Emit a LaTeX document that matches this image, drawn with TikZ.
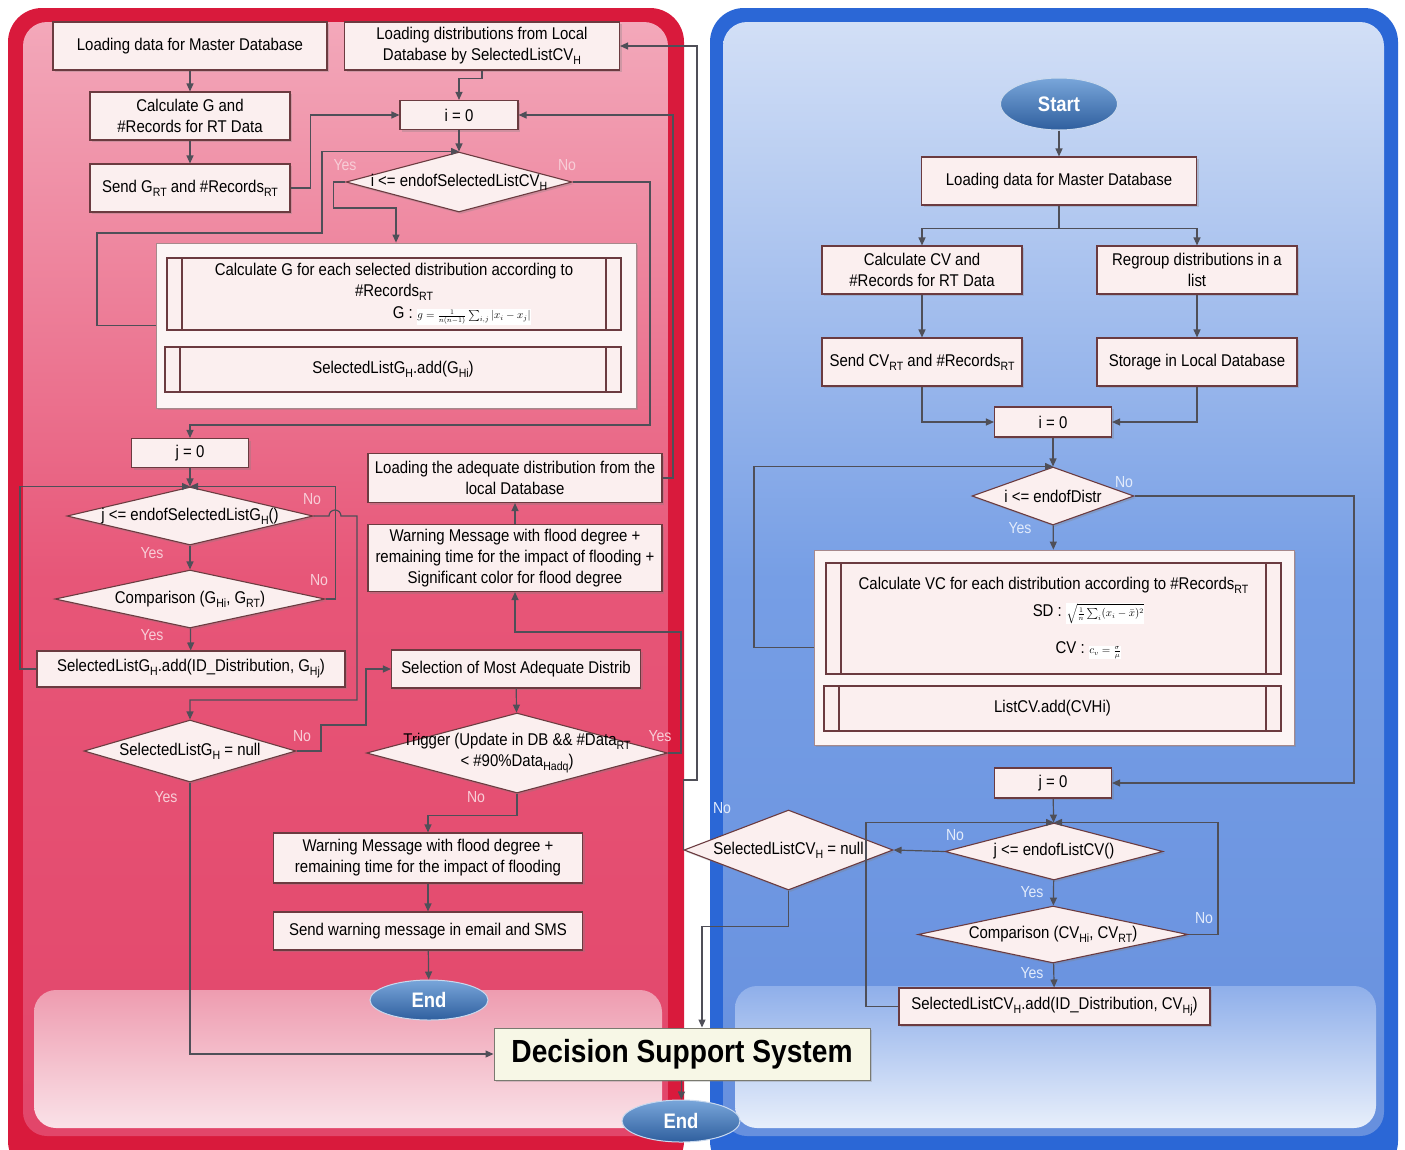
\documentclass[tikz,border=0pt]{standalone}
\usepackage{fontspec}
\setmainfont{Liberation Sans}[FakeStretch=0.88]
\usepackage{amsmath}
\usetikzlibrary{arrows.meta,positioning,calc,shapes.geometric,shadows}

\definecolor{crim}{HTML}{D91A3C}
\definecolor{pinkTop}{HTML}{F3A8BA}
\definecolor{pinkMid}{HTML}{E75678}
\definecolor{pinkLow}{HTML}{E2466A}
\definecolor{pinkBand}{HTML}{EE9CB0}
\definecolor{pinkWhite}{HTML}{FAE2E8}
\definecolor{blueBord}{HTML}{2B67D6}
\definecolor{blueTop}{HTML}{D2DFF6}
\definecolor{blueMid}{HTML}{769EE5}
\definecolor{blueLow}{HTML}{6790DE}
\definecolor{blueBand}{HTML}{8FAFEA}
\definecolor{blueWhite}{HTML}{E8EFFB}
\definecolor{boxfill}{HTML}{FBEFEF}
\definecolor{grpfill}{HTML}{FCF5F5}
\definecolor{boxline}{HTML}{6B3B40}
\definecolor{wirec}{HTML}{4F4F58}
\definecolor{termtop}{HTML}{79A6DA}
\definecolor{termbot}{HTML}{2F5F9E}
\definecolor{termline}{HTML}{C9D9EE}
\definecolor{ynred}{HTML}{F8CDD7}
\definecolor{ynblue}{HTML}{E2EBFB}
\definecolor{dssfill}{HTML}{F7F7E6}
\definecolor{dssline}{HTML}{7A7A70}

\newcommand{\boxfont}{\fontsize{17}{21}\selectfont}
\newcommand{\lowtxt}[1]{\raisebox{-0.45ex}{\fontsize{12}{12}\selectfont #1}}
\newcommand{\formbox}[1]{{\setlength{\fboxsep}{0.5pt}\colorbox{white}{\fontsize{10.5}{12}\selectfont$#1$}}}

\tikzset{
	bx/.style={draw=boxline, fill=boxfill, line width=1.1pt, align=center,
		font=\boxfont, inner sep=1pt},
	blk/.style={bx, drop shadow={shadow xshift=2pt, shadow yshift=-2pt, opacity=0.3}},
	subr/.style={bx, path picture={\draw[boxline, line width=1.1pt]
			([xshift=15pt]path picture bounding box.north west) -- ([xshift=15pt]path picture bounding box.south west)
			([xshift=-15pt]path picture bounding box.north east) -- ([xshift=-15pt]path picture bounding box.south east);}},
	grp/.style={draw=boxline!60, fill=grpfill, line width=0.8pt,
		drop shadow={shadow xshift=2pt, shadow yshift=-2pt, opacity=0.3}},
	dec/.style={blk, diamond},
	dtxt/.style={font=\boxfont, align=center, inner sep=0pt},
	term/.style={ellipse, draw=termline, line width=1pt, top color=termtop, bottom color=termbot,
		text=white, font=\bfseries\fontsize{21}{21}\selectfont, inner sep=0pt},
	dss/.style={draw=dssline, fill=dssfill, line width=1pt, font=\bfseries\fontsize{32}{32}\selectfont,
		drop shadow={shadow xshift=2pt, shadow yshift=-2pt, opacity=0.3}},
	ylr/.style={font=\fontsize{16}{16}\selectfont, text=ynred, inner sep=0pt},
	ylb/.style={font=\fontsize{16}{16}\selectfont, text=ynblue, inner sep=0pt},
	wire/.style={draw=wirec, line width=1.2pt},
	arr/.style={wire, -{Triangle[length=8pt, width=7pt]}},
}

\begin{document}
\begin{tikzpicture}[x=1pt, y=-1pt]
	\useasboundingbox (0,0) rectangle (1405,1149);
	\clip (0,0) rectangle (1405,1149);
	% panels
	\fill[crim, rounded corners=34pt] (8,8) rectangle (684,1175);
	\shade[rounded corners=24pt, top color=pinkTop, bottom color=pinkLow, middle color=pinkMid] (23,22) rectangle (668,1136);
	\shade[rounded corners=22pt, top color=pinkBand, bottom color=pinkWhite] (34,990) rectangle (662,1128);
	\fill[blueBord, rounded corners=34pt] (710,8) rectangle (1398,1175);
	\shade[rounded corners=24pt, top color=blueTop, bottom color=blueLow, middle color=blueMid] (723,22) rectangle (1384,1136);
	\shade[rounded corners=22pt, top color=blueBand, bottom color=blueWhite] (735,986) rectangle (1376,1128);

	% left side
	\node[blk, minimum width=274pt, minimum height=48pt] (lmaster) at (190,46) {Loading data for Master Database};
	\node[blk, minimum width=275pt, minimum height=48pt] (lload) at (482,46) {Loading distributions from Local\\Database by SelectedListCV\lowtxt{H}};
	\node[blk, minimum width=200pt, minimum height=48pt] (lcalc) at (190,116) {Calculate G and\\\#Records for RT Data};
	\node[blk, minimum width=200pt, minimum height=48pt] (lsend) at (190,188) {Send G\lowtxt{RT} and \#Records\lowtxt{RT}};
	\node[blk, minimum width=118pt, minimum height=29pt] (li) at (459,115) {i = 0};
	\node[dec, minimum width=226pt, minimum height=60pt, label={[dtxt]center:{i <= endofSelectedListCV\lowtxt{H}}}] (lci) at (459,182) {};
	\node[grp, minimum width=480pt, minimum height=165pt] (lgrp) at (396,325.5) {};
	\node[subr, minimum width=454pt, minimum height=72pt] (lcalcg) at (394,294) {Calculate G for each selected distribution according to\\\#Records\lowtxt{RT}\\[1pt]\hspace*{136pt}G : \formbox{g=\tfrac{1}{n(n-1)}\sum_{i,j}|x_i-x_j|}};
	\node[subr, minimum width=456pt, minimum height=45pt] (laddg) at (393,369.5) {SelectedListG\lowtxt{H}.add(G\lowtxt{Hi})};
	\node[blk, minimum width=117pt, minimum height=29pt] (lj) at (190,453) {j = 0};
	\node[dec, minimum width=246pt, minimum height=58pt, label={[dtxt]center:{j <= endofSelectedListG\lowtxt{H}()}}] (lcj) at (190,516) {};
	\node[dec, minimum width=270pt, minimum height=58pt, label={[dtxt]center:{Comparison (G\lowtxt{Hi}, G\lowtxt{RT})}}] (lcmp) at (190,599) {};
	\node[blk, minimum width=308pt, minimum height=36pt] (laddid) at (191,669) {SelectedListG\lowtxt{H}.add(ID\_Distribution, G\lowtxt{Hj})};
	\node[dec, minimum width=212pt, minimum height=62pt, label={[dtxt]center:{SelectedListG\lowtxt{H} = null}}] (lnull) at (190,751) {};
	\node[blk, minimum width=294pt, minimum height=49pt] (lload2) at (515,478) {Loading the adequate distribution from the\\local Database};
	\node[blk, minimum width=294pt, minimum height=67pt] (lwarn1) at (515,558) {Warning Message with flood degree +\\remaining time for the impact of flooding +\\Significant color for flood degree};
	\node[blk, minimum width=249pt, minimum height=38pt] (lsel) at (516,669) {Selection of Most Adequate Distrib};
	\node[dec, minimum width=301pt, minimum height=80pt, label={[dtxt]center:{Trigger (Update in DB \&\& \#Data\lowtxt{RT}\\< \#90\%Data\lowtxt{Hadq})}}] (ltrig) at (517,753) {};
	\node[blk, minimum width=309pt, minimum height=50pt] (lwarn2) at (428,858) {Warning Message with flood degree +\\remaining time for the impact of flooding};
	\node[blk, minimum width=309pt, minimum height=38pt] (lsms) at (428,931) {Send warning message in email and SMS};
	\node[term, minimum width=118pt, minimum height=40pt] (lend) at (429,1000) {End};

	% right side
	\node[term, minimum width=117pt, minimum height=52pt] (rstart) at (1059,104) {Start};
	\node[blk, minimum width=275pt, minimum height=48pt] (rmaster) at (1059,181) {Loading data for Master Database};
	\node[blk, minimum width=200pt, minimum height=48pt] (rcalc) at (922,270) {Calculate CV and\\\#Records for RT Data};
	\node[blk, minimum width=200pt, minimum height=48pt] (rgroup) at (1197,270) {Regroup distributions in a\\list};
	\node[blk, minimum width=200pt, minimum height=48pt] (rsend) at (922,362) {Send CV\lowtxt{RT} and \#Records\lowtxt{RT}};
	\node[blk, minimum width=200pt, minimum height=48pt] (rstore) at (1197,362) {Storage in Local Database};
	\node[blk, minimum width=117pt, minimum height=30pt] (ri) at (1053,422) {i = 0};
	\node[dec, minimum width=162pt, minimum height=58pt, label={[dtxt]center:{i <= endofDistr}}] (rci) at (1053,496) {};
	\node[grp, minimum width=480pt, minimum height=195pt] (rgrp) at (1054,647.5) {};
	\node[subr, minimum width=455pt, minimum height=111pt] (rcalcv) at (1053.5,618.5) {Calculate VC for each distribution according to \#Records\lowtxt{RT}\\[6pt]\hspace*{70pt}SD : \formbox{\sqrt{\tfrac{1}{n}\sum_i(x_i-\bar{x})^2}}\\[16pt]\hspace*{70pt}CV : \formbox{c_v=\tfrac{\sigma}{\mu}}};
	\node[subr, minimum width=457pt, minimum height=45pt] (raddcv) at (1052.5,708.5) {ListCV.add(CVHi)};
	\node[blk, minimum width=117pt, minimum height=30pt] (rj) at (1053,783) {j = 0};
	\node[dec, minimum width=218pt, minimum height=57pt, label={[dtxt]center:{j <= endofListCV()}}] (rcj) at (1054,851.5) {};
	\node[dec, minimum width=270pt, minimum height=57pt, label={[dtxt]center:{Comparison (CV\lowtxt{Hi}, CV\lowtxt{RT})}}] (rcmp) at (1053,934.5) {};
	\node[blk, minimum width=311pt, minimum height=37pt] (raddid) at (1054.5,1006.5) {SelectedListCV\lowtxt{H}.add(ID\_Distribution, CV\lowtxt{Hj})};
	\node[dec, minimum width=209pt, minimum height=80pt, label={[dtxt]center:{SelectedListCV\lowtxt{H} = null}}] (rnull) at (788.5,850) {};

	% shared
	\node[dss, minimum width=376pt, minimum height=52pt] (dsys) at (682,1054) {Decision Support System};
	\node[term, minimum width=118pt, minimum height=42pt] (fend) at (681,1121) {End};

	% left connectors
	\draw[arr] (lmaster) -- (lcalc);
	\draw[arr] (lcalc) -- (lsend);
	\draw[arr] (lsend.east) -- ++(20,0) |- (li.west);
	\draw[arr] (lload.south) -- ++(0,8) -| (li.north);
	\draw[arr] (li) -- (lci);
	\draw[arr] (lci.west) -- ++(-12,0) -- ++(0,26) -| (lgrp.north);
	\draw[arr] (lci.east) -| (650,425) -| (lj.north);
	\draw[arr] (lgrp.west) -- (97,325.5) |- (322,233) |- (lci.north);
	\draw[arr] (lj) -- (lcj);
	\draw[arr] (lcj) -- (lcmp);
	\draw[arr] (lcmp) -- (laddid);
	\draw[arr] (lcmp.east) -- ++(10,0) |- (lcj.north);
	\draw[arr] (laddid.west) -- (20,669) |- (lcj.north);
	\draw[arr] (lcj.east) -- (329,516) arc[start angle=180, end angle=0, radius=6pt] -- (357,516) -- (357,700) -| (lnull.north);
	\draw[arr] (lnull.east) -- (321,751) |- (366,725) |- (lsel.west);
	\draw[arr] (lnull.south) |- (dsys.west);
	\draw[arr] (lsel) -- (ltrig);
	\draw[arr] (ltrig.south) -- ++(0,22) -| (lwarn2.north);
	\draw[arr] (lwarn2) -- (lsms);
	\draw[arr] (lsms) -- (lend);
	\draw[arr] (ltrig.east) -- (681,753) -- (681,632) -| (lwarn1.south);
	\draw[arr] (lwarn1) -- (lload2);
	\draw[arr] (lload2.east) -- (673,478) |- (li.east);

	% right connectors
	\draw[arr] (rstart) -- (rmaster);
	\draw[wire] (rmaster.south) -- ++(0,23) coordinate (rsplit);
	\draw[arr] (rsplit) -| (rcalc.north);
	\draw[arr] (rsplit) -| (rgroup.north);
	\draw[arr] (rcalc) -- (rsend);
	\draw[arr] (rgroup) -- (rstore);
	\draw[arr] (rsend.south) |- (ri.west);
	\draw[arr] (rstore.south) |- (ri.east);
	\draw[arr] (ri) -- (rci);
	\draw[arr] (rci) -- (rgrp);
	\draw[arr] (rci.east) -- (1354,496) |- (rj.east);
	\draw[arr] (rgrp.west) -- (754,647.5) |- (rci.north);
	\draw[arr] (rj) -- (rcj);
	\draw[arr] (rcj.west) -- (rnull.east);
	\draw[arr] (rcj) -- (rcmp);
	\draw[arr] (rcmp) -- (raddid);
	\draw[arr] (rcmp.east) -- (1218,934.5) |- (rcj.north);
	\draw[arr] (raddid.west) -- (866,1006.5) |- (rcj.north);
	\draw[arr] (rnull.south) -- ++(0,36) -| ($(dsys.north)+(20pt,0)$);
	\draw[arr] (rnull.west) |- (697,780) |- (lload.east);
	\draw[arr] (dsys) -- (fend);

	% yes / no
	\node[ylr] (ly1) at (345,165) {Yes};
	\node[ylr] (ln1) at (567,165) {No};
	\node[ylr] (ln2) at (312,499) {No};
	\node[ylr] (ly2) at (152,553) {Yes};
	\node[ylr] (ln3) at (319,580) {No};
	\node[ylr] (ly3) at (152,635) {Yes};
	\node[ylr] (ln4) at (302,736) {No};
	\node[ylr] (ly4) at (166,797) {Yes};
	\node[ylr] (ly5) at (660,736) {Yes};
	\node[ylr] (ln5) at (476,797) {No};
	\node[ylb] (rn1) at (1124,482) {No};
	\node[ylb] (ry1) at (1020,528) {Yes};
	\node[ylb] (rn2) at (722,808) {No};
	\node[ylb] (rn3) at (955,835) {No};
	\node[ylb] (ry2) at (1032,892) {Yes};
	\node[ylb] (rn4) at (1204,918) {No};
	\node[ylb] (ry3) at (1032,973) {Yes};
\end{tikzpicture}
\end{document}
